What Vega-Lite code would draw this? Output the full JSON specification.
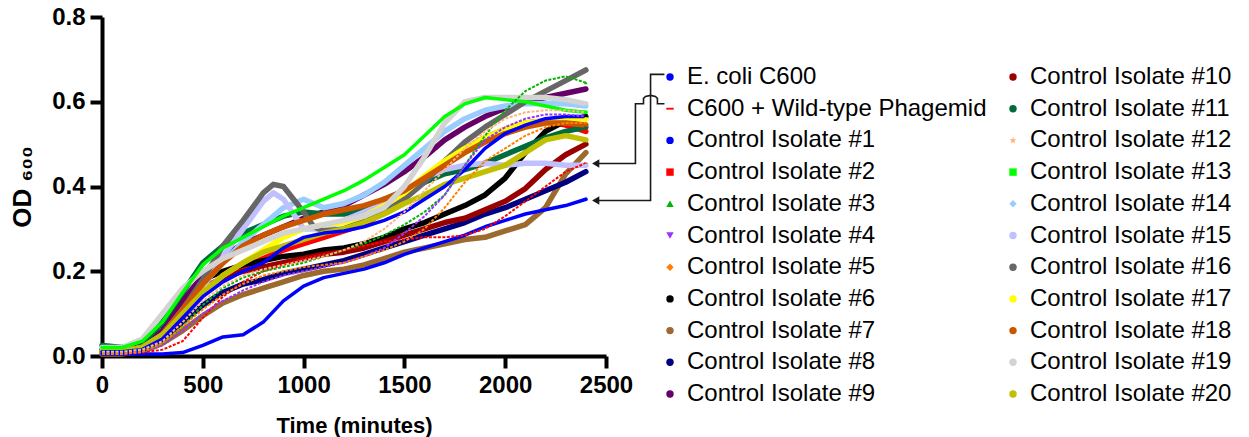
{
"$schema":"https://vega.github.io/schema/vega-lite/v6.json",
"width":504,"height":339,
"autosize":{"type":"none"},
"padding":{"left":102,"top":17,"right":643,"bottom":81},
"background":"white",
"config":{"view":{"stroke":null}},
"resolve":{"legend":{"color":"independent","shape":"independent"}},
"datasets":{
"arrows":[
{"a":1,"k":0,"t":2790,"v":0.6646},{"a":1,"k":1,"t":2721,"v":0.6646},{"a":1,"k":2,"t":2721,"v":0.367},{"a":1,"k":3,"t":2458,"v":0.367},
{"a":2,"k":0,"t":2790,"v":0.5954},{"a":2,"k":1,"t":2755,"v":0.5954},{"a":2,"k":2,"t":2755,"v":0.6079},{"a":2,"k":3,"t":2745,"v":0.6126},{"a":2,"k":4,"t":2721,"v":0.615},{"a":2,"k":5,"t":2696,"v":0.6126},{"a":2,"k":6,"t":2686,"v":0.6079},{"a":2,"k":7,"t":2686,"v":0.5954},{"a":2,"k":8,"t":2646,"v":0.5954},{"a":2,"k":9,"t":2646,"v":0.4543},{"a":2,"k":10,"t":2458,"v":0.4543}
],
"heads":[{"a":1,"t":2449,"v":0.367},{"a":2,"t":2449,"v":0.4543}],
"curves":[
{"s":"E. coli C600","t":0,"v":0.005},{"s":"E. coli C600","t":100,"v":0.005},{"s":"E. coli C600","t":200,"v":0.005},{"s":"E. coli C600","t":300,"v":0.005},{"s":"E. coli C600","t":400,"v":0.008},{"s":"E. coli C600","t":500,"v":0.025},{"s":"E. coli C600","t":600,"v":0.045},{"s":"E. coli C600","t":700,"v":0.05},{"s":"E. coli C600","t":800,"v":0.08},{"s":"E. coli C600","t":900,"v":0.13},{"s":"E. coli C600","t":1000,"v":0.165},{"s":"E. coli C600","t":1100,"v":0.185},{"s":"E. coli C600","t":1200,"v":0.195},{"s":"E. coli C600","t":1300,"v":0.205},{"s":"E. coli C600","t":1400,"v":0.22},{"s":"E. coli C600","t":1500,"v":0.24},{"s":"E. coli C600","t":1600,"v":0.255},{"s":"E. coli C600","t":1700,"v":0.27},{"s":"E. coli C600","t":1800,"v":0.285},{"s":"E. coli C600","t":1900,"v":0.305},{"s":"E. coli C600","t":2000,"v":0.32},{"s":"E. coli C600","t":2100,"v":0.335},{"s":"E. coli C600","t":2200,"v":0.345},{"s":"E. coli C600","t":2300,"v":0.355},{"s":"E. coli C600","t":2400,"v":0.37},
{"s":"C600 + Wild-type Phagemid","t":0,"v":0.005},{"s":"C600 + Wild-type Phagemid","t":100,"v":0.005},{"s":"C600 + Wild-type Phagemid","t":200,"v":0.008},{"s":"C600 + Wild-type Phagemid","t":300,"v":0.015},{"s":"C600 + Wild-type Phagemid","t":400,"v":0.035},{"s":"C600 + Wild-type Phagemid","t":500,"v":0.09},{"s":"C600 + Wild-type Phagemid","t":600,"v":0.14},{"s":"C600 + Wild-type Phagemid","t":700,"v":0.175},{"s":"C600 + Wild-type Phagemid","t":800,"v":0.2},{"s":"C600 + Wild-type Phagemid","t":900,"v":0.215},{"s":"C600 + Wild-type Phagemid","t":1000,"v":0.23},{"s":"C600 + Wild-type Phagemid","t":1100,"v":0.24},{"s":"C600 + Wild-type Phagemid","t":1200,"v":0.25},{"s":"C600 + Wild-type Phagemid","t":1300,"v":0.26},{"s":"C600 + Wild-type Phagemid","t":1400,"v":0.27},{"s":"C600 + Wild-type Phagemid","t":1500,"v":0.275},{"s":"C600 + Wild-type Phagemid","t":1600,"v":0.28},{"s":"C600 + Wild-type Phagemid","t":1700,"v":0.28},{"s":"C600 + Wild-type Phagemid","t":1800,"v":0.285},{"s":"C600 + Wild-type Phagemid","t":1900,"v":0.3},{"s":"C600 + Wild-type Phagemid","t":2000,"v":0.33},{"s":"C600 + Wild-type Phagemid","t":2100,"v":0.365},{"s":"C600 + Wild-type Phagemid","t":2200,"v":0.4},{"s":"C600 + Wild-type Phagemid","t":2300,"v":0.435},{"s":"C600 + Wild-type Phagemid","t":2400,"v":0.455},
{"s":"Control Isolate #1","t":0,"v":0.01},{"s":"Control Isolate #1","t":100,"v":0.01},{"s":"Control Isolate #1","t":200,"v":0.015},{"s":"Control Isolate #1","t":300,"v":0.04},{"s":"Control Isolate #1","t":400,"v":0.09},{"s":"Control Isolate #1","t":500,"v":0.14},{"s":"Control Isolate #1","t":600,"v":0.175},{"s":"Control Isolate #1","t":700,"v":0.2},{"s":"Control Isolate #1","t":800,"v":0.22},{"s":"Control Isolate #1","t":900,"v":0.255},{"s":"Control Isolate #1","t":1000,"v":0.28},{"s":"Control Isolate #1","t":1100,"v":0.29},{"s":"Control Isolate #1","t":1200,"v":0.295},{"s":"Control Isolate #1","t":1300,"v":0.305},{"s":"Control Isolate #1","t":1400,"v":0.32},{"s":"Control Isolate #1","t":1500,"v":0.34},{"s":"Control Isolate #1","t":1600,"v":0.37},{"s":"Control Isolate #1","t":1700,"v":0.4},{"s":"Control Isolate #1","t":1800,"v":0.44},{"s":"Control Isolate #1","t":1900,"v":0.49},{"s":"Control Isolate #1","t":2000,"v":0.525},{"s":"Control Isolate #1","t":2100,"v":0.545},{"s":"Control Isolate #1","t":2200,"v":0.56},{"s":"Control Isolate #1","t":2300,"v":0.565},{"s":"Control Isolate #1","t":2400,"v":0.565},
{"s":"Control Isolate #2","t":0,"v":0.01},{"s":"Control Isolate #2","t":100,"v":0.01},{"s":"Control Isolate #2","t":200,"v":0.015},{"s":"Control Isolate #2","t":300,"v":0.04},{"s":"Control Isolate #2","t":400,"v":0.1},{"s":"Control Isolate #2","t":500,"v":0.15},{"s":"Control Isolate #2","t":600,"v":0.185},{"s":"Control Isolate #2","t":700,"v":0.21},{"s":"Control Isolate #2","t":800,"v":0.23},{"s":"Control Isolate #2","t":900,"v":0.25},{"s":"Control Isolate #2","t":1000,"v":0.265},{"s":"Control Isolate #2","t":1100,"v":0.28},{"s":"Control Isolate #2","t":1200,"v":0.295},{"s":"Control Isolate #2","t":1300,"v":0.31},{"s":"Control Isolate #2","t":1400,"v":0.34},{"s":"Control Isolate #2","t":1500,"v":0.38},{"s":"Control Isolate #2","t":1600,"v":0.42},{"s":"Control Isolate #2","t":1700,"v":0.46},{"s":"Control Isolate #2","t":1800,"v":0.49},{"s":"Control Isolate #2","t":1900,"v":0.515},{"s":"Control Isolate #2","t":2000,"v":0.535},{"s":"Control Isolate #2","t":2100,"v":0.55},{"s":"Control Isolate #2","t":2200,"v":0.555},{"s":"Control Isolate #2","t":2300,"v":0.545},{"s":"Control Isolate #2","t":2400,"v":0.53},
{"s":"Control Isolate #3","t":0,"v":0.01},{"s":"Control Isolate #3","t":100,"v":0.01},{"s":"Control Isolate #3","t":200,"v":0.015},{"s":"Control Isolate #3","t":300,"v":0.03},{"s":"Control Isolate #3","t":400,"v":0.07},{"s":"Control Isolate #3","t":500,"v":0.12},{"s":"Control Isolate #3","t":600,"v":0.16},{"s":"Control Isolate #3","t":700,"v":0.185},{"s":"Control Isolate #3","t":800,"v":0.2},{"s":"Control Isolate #3","t":900,"v":0.21},{"s":"Control Isolate #3","t":1000,"v":0.22},{"s":"Control Isolate #3","t":1100,"v":0.235},{"s":"Control Isolate #3","t":1200,"v":0.25},{"s":"Control Isolate #3","t":1300,"v":0.265},{"s":"Control Isolate #3","t":1400,"v":0.285},{"s":"Control Isolate #3","t":1500,"v":0.31},{"s":"Control Isolate #3","t":1600,"v":0.34},{"s":"Control Isolate #3","t":1700,"v":0.38},{"s":"Control Isolate #3","t":1800,"v":0.45},{"s":"Control Isolate #3","t":1900,"v":0.52},{"s":"Control Isolate #3","t":2000,"v":0.58},{"s":"Control Isolate #3","t":2100,"v":0.625},{"s":"Control Isolate #3","t":2200,"v":0.65},{"s":"Control Isolate #3","t":2300,"v":0.66},{"s":"Control Isolate #3","t":2400,"v":0.645},
{"s":"Control Isolate #4","t":0,"v":0.005},{"s":"Control Isolate #4","t":100,"v":0.005},{"s":"Control Isolate #4","t":200,"v":0.01},{"s":"Control Isolate #4","t":300,"v":0.025},{"s":"Control Isolate #4","t":400,"v":0.06},{"s":"Control Isolate #4","t":500,"v":0.1},{"s":"Control Isolate #4","t":600,"v":0.13},{"s":"Control Isolate #4","t":700,"v":0.155},{"s":"Control Isolate #4","t":800,"v":0.175},{"s":"Control Isolate #4","t":900,"v":0.19},{"s":"Control Isolate #4","t":1000,"v":0.2},{"s":"Control Isolate #4","t":1100,"v":0.21},{"s":"Control Isolate #4","t":1200,"v":0.22},{"s":"Control Isolate #4","t":1300,"v":0.235},{"s":"Control Isolate #4","t":1400,"v":0.255},{"s":"Control Isolate #4","t":1500,"v":0.29},{"s":"Control Isolate #4","t":1600,"v":0.33},{"s":"Control Isolate #4","t":1700,"v":0.38},{"s":"Control Isolate #4","t":1800,"v":0.45},{"s":"Control Isolate #4","t":1900,"v":0.51},{"s":"Control Isolate #4","t":2000,"v":0.54},{"s":"Control Isolate #4","t":2100,"v":0.56},{"s":"Control Isolate #4","t":2200,"v":0.57},{"s":"Control Isolate #4","t":2300,"v":0.57},{"s":"Control Isolate #4","t":2400,"v":0.565},
{"s":"Control Isolate #5","t":0,"v":0.005},{"s":"Control Isolate #5","t":100,"v":0.005},{"s":"Control Isolate #5","t":200,"v":0.01},{"s":"Control Isolate #5","t":300,"v":0.03},{"s":"Control Isolate #5","t":400,"v":0.07},{"s":"Control Isolate #5","t":500,"v":0.11},{"s":"Control Isolate #5","t":600,"v":0.145},{"s":"Control Isolate #5","t":700,"v":0.17},{"s":"Control Isolate #5","t":800,"v":0.19},{"s":"Control Isolate #5","t":900,"v":0.2},{"s":"Control Isolate #5","t":1000,"v":0.21},{"s":"Control Isolate #5","t":1100,"v":0.215},{"s":"Control Isolate #5","t":1200,"v":0.22},{"s":"Control Isolate #5","t":1300,"v":0.235},{"s":"Control Isolate #5","t":1400,"v":0.25},{"s":"Control Isolate #5","t":1500,"v":0.27},{"s":"Control Isolate #5","t":1600,"v":0.3},{"s":"Control Isolate #5","t":1700,"v":0.35},{"s":"Control Isolate #5","t":1800,"v":0.41},{"s":"Control Isolate #5","t":1900,"v":0.46},{"s":"Control Isolate #5","t":2000,"v":0.49},{"s":"Control Isolate #5","t":2100,"v":0.52},{"s":"Control Isolate #5","t":2200,"v":0.54},{"s":"Control Isolate #5","t":2300,"v":0.55},{"s":"Control Isolate #5","t":2400,"v":0.55},
{"s":"Control Isolate #6","t":0,"v":0.01},{"s":"Control Isolate #6","t":100,"v":0.01},{"s":"Control Isolate #6","t":200,"v":0.02},{"s":"Control Isolate #6","t":300,"v":0.06},{"s":"Control Isolate #6","t":400,"v":0.13},{"s":"Control Isolate #6","t":500,"v":0.18},{"s":"Control Isolate #6","t":600,"v":0.2},{"s":"Control Isolate #6","t":700,"v":0.215},{"s":"Control Isolate #6","t":800,"v":0.225},{"s":"Control Isolate #6","t":900,"v":0.235},{"s":"Control Isolate #6","t":1000,"v":0.24},{"s":"Control Isolate #6","t":1100,"v":0.25},{"s":"Control Isolate #6","t":1200,"v":0.255},{"s":"Control Isolate #6","t":1300,"v":0.265},{"s":"Control Isolate #6","t":1400,"v":0.28},{"s":"Control Isolate #6","t":1500,"v":0.3},{"s":"Control Isolate #6","t":1600,"v":0.315},{"s":"Control Isolate #6","t":1700,"v":0.335},{"s":"Control Isolate #6","t":1800,"v":0.355},{"s":"Control Isolate #6","t":1900,"v":0.38},{"s":"Control Isolate #6","t":2000,"v":0.42},{"s":"Control Isolate #6","t":2100,"v":0.48},{"s":"Control Isolate #6","t":2200,"v":0.53},{"s":"Control Isolate #6","t":2300,"v":0.555},{"s":"Control Isolate #6","t":2400,"v":0.565},
{"s":"Control Isolate #7","t":0,"v":0.005},{"s":"Control Isolate #7","t":100,"v":0.005},{"s":"Control Isolate #7","t":200,"v":0.01},{"s":"Control Isolate #7","t":300,"v":0.03},{"s":"Control Isolate #7","t":400,"v":0.06},{"s":"Control Isolate #7","t":500,"v":0.095},{"s":"Control Isolate #7","t":600,"v":0.125},{"s":"Control Isolate #7","t":700,"v":0.145},{"s":"Control Isolate #7","t":800,"v":0.16},{"s":"Control Isolate #7","t":900,"v":0.175},{"s":"Control Isolate #7","t":1000,"v":0.19},{"s":"Control Isolate #7","t":1100,"v":0.2},{"s":"Control Isolate #7","t":1200,"v":0.205},{"s":"Control Isolate #7","t":1300,"v":0.215},{"s":"Control Isolate #7","t":1400,"v":0.23},{"s":"Control Isolate #7","t":1500,"v":0.245},{"s":"Control Isolate #7","t":1600,"v":0.255},{"s":"Control Isolate #7","t":1700,"v":0.265},{"s":"Control Isolate #7","t":1800,"v":0.275},{"s":"Control Isolate #7","t":1900,"v":0.28},{"s":"Control Isolate #7","t":2000,"v":0.295},{"s":"Control Isolate #7","t":2100,"v":0.31},{"s":"Control Isolate #7","t":2200,"v":0.35},{"s":"Control Isolate #7","t":2300,"v":0.43},{"s":"Control Isolate #7","t":2400,"v":0.48},
{"s":"Control Isolate #8","t":0,"v":0.01},{"s":"Control Isolate #8","t":100,"v":0.01},{"s":"Control Isolate #8","t":200,"v":0.015},{"s":"Control Isolate #8","t":300,"v":0.04},{"s":"Control Isolate #8","t":400,"v":0.08},{"s":"Control Isolate #8","t":500,"v":0.12},{"s":"Control Isolate #8","t":600,"v":0.15},{"s":"Control Isolate #8","t":700,"v":0.17},{"s":"Control Isolate #8","t":800,"v":0.18},{"s":"Control Isolate #8","t":900,"v":0.195},{"s":"Control Isolate #8","t":1000,"v":0.205},{"s":"Control Isolate #8","t":1100,"v":0.215},{"s":"Control Isolate #8","t":1200,"v":0.225},{"s":"Control Isolate #8","t":1300,"v":0.24},{"s":"Control Isolate #8","t":1400,"v":0.255},{"s":"Control Isolate #8","t":1500,"v":0.27},{"s":"Control Isolate #8","t":1600,"v":0.285},{"s":"Control Isolate #8","t":1700,"v":0.3},{"s":"Control Isolate #8","t":1800,"v":0.315},{"s":"Control Isolate #8","t":1900,"v":0.335},{"s":"Control Isolate #8","t":2000,"v":0.35},{"s":"Control Isolate #8","t":2100,"v":0.37},{"s":"Control Isolate #8","t":2200,"v":0.39},{"s":"Control Isolate #8","t":2300,"v":0.41},{"s":"Control Isolate #8","t":2400,"v":0.435},
{"s":"Control Isolate #9","t":0,"v":0.015},{"s":"Control Isolate #9","t":100,"v":0.015},{"s":"Control Isolate #9","t":200,"v":0.02},{"s":"Control Isolate #9","t":300,"v":0.06},{"s":"Control Isolate #9","t":400,"v":0.13},{"s":"Control Isolate #9","t":500,"v":0.19},{"s":"Control Isolate #9","t":600,"v":0.235},{"s":"Control Isolate #9","t":700,"v":0.265},{"s":"Control Isolate #9","t":800,"v":0.285},{"s":"Control Isolate #9","t":900,"v":0.305},{"s":"Control Isolate #9","t":1000,"v":0.325},{"s":"Control Isolate #9","t":1100,"v":0.34},{"s":"Control Isolate #9","t":1200,"v":0.355},{"s":"Control Isolate #9","t":1300,"v":0.38},{"s":"Control Isolate #9","t":1400,"v":0.405},{"s":"Control Isolate #9","t":1500,"v":0.435},{"s":"Control Isolate #9","t":1600,"v":0.47},{"s":"Control Isolate #9","t":1700,"v":0.51},{"s":"Control Isolate #9","t":1800,"v":0.54},{"s":"Control Isolate #9","t":1900,"v":0.565},{"s":"Control Isolate #9","t":2000,"v":0.585},{"s":"Control Isolate #9","t":2100,"v":0.6},{"s":"Control Isolate #9","t":2200,"v":0.61},{"s":"Control Isolate #9","t":2300,"v":0.62},{"s":"Control Isolate #9","t":2400,"v":0.63},
{"s":"Control Isolate #10","t":0,"v":0.01},{"s":"Control Isolate #10","t":100,"v":0.01},{"s":"Control Isolate #10","t":200,"v":0.02},{"s":"Control Isolate #10","t":300,"v":0.05},{"s":"Control Isolate #10","t":400,"v":0.11},{"s":"Control Isolate #10","t":500,"v":0.16},{"s":"Control Isolate #10","t":600,"v":0.185},{"s":"Control Isolate #10","t":700,"v":0.2},{"s":"Control Isolate #10","t":800,"v":0.21},{"s":"Control Isolate #10","t":900,"v":0.22},{"s":"Control Isolate #10","t":1000,"v":0.23},{"s":"Control Isolate #10","t":1100,"v":0.24},{"s":"Control Isolate #10","t":1200,"v":0.245},{"s":"Control Isolate #10","t":1300,"v":0.255},{"s":"Control Isolate #10","t":1400,"v":0.27},{"s":"Control Isolate #10","t":1500,"v":0.285},{"s":"Control Isolate #10","t":1600,"v":0.3},{"s":"Control Isolate #10","t":1700,"v":0.315},{"s":"Control Isolate #10","t":1800,"v":0.325},{"s":"Control Isolate #10","t":1900,"v":0.345},{"s":"Control Isolate #10","t":2000,"v":0.365},{"s":"Control Isolate #10","t":2100,"v":0.395},{"s":"Control Isolate #10","t":2200,"v":0.44},{"s":"Control Isolate #10","t":2300,"v":0.475},{"s":"Control Isolate #10","t":2400,"v":0.5},
{"s":"Control Isolate #11","t":0,"v":0.025},{"s":"Control Isolate #11","t":100,"v":0.02},{"s":"Control Isolate #11","t":200,"v":0.03},{"s":"Control Isolate #11","t":300,"v":0.08},{"s":"Control Isolate #11","t":400,"v":0.15},{"s":"Control Isolate #11","t":500,"v":0.22},{"s":"Control Isolate #11","t":600,"v":0.26},{"s":"Control Isolate #11","t":700,"v":0.29},{"s":"Control Isolate #11","t":800,"v":0.31},{"s":"Control Isolate #11","t":900,"v":0.33},{"s":"Control Isolate #11","t":1000,"v":0.34},{"s":"Control Isolate #11","t":1100,"v":0.335},{"s":"Control Isolate #11","t":1200,"v":0.335},{"s":"Control Isolate #11","t":1300,"v":0.345},{"s":"Control Isolate #11","t":1400,"v":0.37},{"s":"Control Isolate #11","t":1500,"v":0.39},{"s":"Control Isolate #11","t":1600,"v":0.41},{"s":"Control Isolate #11","t":1700,"v":0.43},{"s":"Control Isolate #11","t":1800,"v":0.44},{"s":"Control Isolate #11","t":1900,"v":0.455},{"s":"Control Isolate #11","t":2000,"v":0.475},{"s":"Control Isolate #11","t":2100,"v":0.495},{"s":"Control Isolate #11","t":2200,"v":0.515},{"s":"Control Isolate #11","t":2300,"v":0.53},{"s":"Control Isolate #11","t":2400,"v":0.54},
{"s":"Control Isolate #12","t":0,"v":0.01},{"s":"Control Isolate #12","t":100,"v":0.01},{"s":"Control Isolate #12","t":200,"v":0.015},{"s":"Control Isolate #12","t":300,"v":0.035},{"s":"Control Isolate #12","t":400,"v":0.08},{"s":"Control Isolate #12","t":500,"v":0.13},{"s":"Control Isolate #12","t":600,"v":0.165},{"s":"Control Isolate #12","t":700,"v":0.19},{"s":"Control Isolate #12","t":800,"v":0.205},{"s":"Control Isolate #12","t":900,"v":0.215},{"s":"Control Isolate #12","t":1000,"v":0.225},{"s":"Control Isolate #12","t":1100,"v":0.235},{"s":"Control Isolate #12","t":1200,"v":0.25},{"s":"Control Isolate #12","t":1300,"v":0.27},{"s":"Control Isolate #12","t":1400,"v":0.3},{"s":"Control Isolate #12","t":1500,"v":0.34},{"s":"Control Isolate #12","t":1600,"v":0.39},{"s":"Control Isolate #12","t":1700,"v":0.44},{"s":"Control Isolate #12","t":1800,"v":0.49},{"s":"Control Isolate #12","t":1900,"v":0.53},{"s":"Control Isolate #12","t":2000,"v":0.56},{"s":"Control Isolate #12","t":2100,"v":0.575},{"s":"Control Isolate #12","t":2200,"v":0.58},{"s":"Control Isolate #12","t":2300,"v":0.58},{"s":"Control Isolate #12","t":2400,"v":0.575},
{"s":"Control Isolate #13","t":0,"v":0.02},{"s":"Control Isolate #13","t":100,"v":0.02},{"s":"Control Isolate #13","t":200,"v":0.035},{"s":"Control Isolate #13","t":300,"v":0.08},{"s":"Control Isolate #13","t":400,"v":0.15},{"s":"Control Isolate #13","t":500,"v":0.215},{"s":"Control Isolate #13","t":600,"v":0.255},{"s":"Control Isolate #13","t":700,"v":0.28},{"s":"Control Isolate #13","t":800,"v":0.305},{"s":"Control Isolate #13","t":900,"v":0.33},{"s":"Control Isolate #13","t":1000,"v":0.35},{"s":"Control Isolate #13","t":1100,"v":0.37},{"s":"Control Isolate #13","t":1200,"v":0.39},{"s":"Control Isolate #13","t":1300,"v":0.415},{"s":"Control Isolate #13","t":1400,"v":0.445},{"s":"Control Isolate #13","t":1500,"v":0.475},{"s":"Control Isolate #13","t":1600,"v":0.52},{"s":"Control Isolate #13","t":1700,"v":0.565},{"s":"Control Isolate #13","t":1800,"v":0.595},{"s":"Control Isolate #13","t":1900,"v":0.61},{"s":"Control Isolate #13","t":2000,"v":0.605},{"s":"Control Isolate #13","t":2100,"v":0.6},{"s":"Control Isolate #13","t":2200,"v":0.59},{"s":"Control Isolate #13","t":2300,"v":0.58},{"s":"Control Isolate #13","t":2400,"v":0.575},
{"s":"Control Isolate #14","t":0,"v":0.01},{"s":"Control Isolate #14","t":100,"v":0.01},{"s":"Control Isolate #14","t":200,"v":0.02},{"s":"Control Isolate #14","t":300,"v":0.05},{"s":"Control Isolate #14","t":400,"v":0.11},{"s":"Control Isolate #14","t":500,"v":0.17},{"s":"Control Isolate #14","t":600,"v":0.22},{"s":"Control Isolate #14","t":700,"v":0.27},{"s":"Control Isolate #14","t":800,"v":0.31},{"s":"Control Isolate #14","t":900,"v":0.35},{"s":"Control Isolate #14","t":1000,"v":0.37},{"s":"Control Isolate #14","t":1100,"v":0.35},{"s":"Control Isolate #14","t":1200,"v":0.36},{"s":"Control Isolate #14","t":1300,"v":0.38},{"s":"Control Isolate #14","t":1400,"v":0.41},{"s":"Control Isolate #14","t":1500,"v":0.45},{"s":"Control Isolate #14","t":1600,"v":0.49},{"s":"Control Isolate #14","t":1700,"v":0.53},{"s":"Control Isolate #14","t":1800,"v":0.56},{"s":"Control Isolate #14","t":1900,"v":0.58},{"s":"Control Isolate #14","t":2000,"v":0.59},{"s":"Control Isolate #14","t":2100,"v":0.595},{"s":"Control Isolate #14","t":2200,"v":0.595},{"s":"Control Isolate #14","t":2300,"v":0.595},{"s":"Control Isolate #14","t":2400,"v":0.59},
{"s":"Control Isolate #15","t":0,"v":0.01},{"s":"Control Isolate #15","t":100,"v":0.01},{"s":"Control Isolate #15","t":200,"v":0.02},{"s":"Control Isolate #15","t":300,"v":0.05},{"s":"Control Isolate #15","t":400,"v":0.1},{"s":"Control Isolate #15","t":500,"v":0.16},{"s":"Control Isolate #15","t":600,"v":0.235},{"s":"Control Isolate #15","t":700,"v":0.3},{"s":"Control Isolate #15","t":800,"v":0.365},{"s":"Control Isolate #15","t":850,"v":0.385},{"s":"Control Isolate #15","t":900,"v":0.37},{"s":"Control Isolate #15","t":1000,"v":0.3},{"s":"Control Isolate #15","t":1100,"v":0.3},{"s":"Control Isolate #15","t":1200,"v":0.32},{"s":"Control Isolate #15","t":1300,"v":0.34},{"s":"Control Isolate #15","t":1400,"v":0.36},{"s":"Control Isolate #15","t":1500,"v":0.39},{"s":"Control Isolate #15","t":1600,"v":0.42},{"s":"Control Isolate #15","t":1700,"v":0.44},{"s":"Control Isolate #15","t":1800,"v":0.45},{"s":"Control Isolate #15","t":1900,"v":0.455},{"s":"Control Isolate #15","t":2000,"v":0.45},{"s":"Control Isolate #15","t":2100,"v":0.455},{"s":"Control Isolate #15","t":2200,"v":0.455},{"s":"Control Isolate #15","t":2300,"v":0.45},{"s":"Control Isolate #15","t":2400,"v":0.45},
{"s":"Control Isolate #16","t":0,"v":0.01},{"s":"Control Isolate #16","t":100,"v":0.01},{"s":"Control Isolate #16","t":200,"v":0.02},{"s":"Control Isolate #16","t":300,"v":0.05},{"s":"Control Isolate #16","t":400,"v":0.11},{"s":"Control Isolate #16","t":500,"v":0.18},{"s":"Control Isolate #16","t":600,"v":0.26},{"s":"Control Isolate #16","t":700,"v":0.32},{"s":"Control Isolate #16","t":800,"v":0.385},{"s":"Control Isolate #16","t":850,"v":0.405},{"s":"Control Isolate #16","t":900,"v":0.4},{"s":"Control Isolate #16","t":1000,"v":0.34},{"s":"Control Isolate #16","t":1050,"v":0.305},{"s":"Control Isolate #16","t":1100,"v":0.295},{"s":"Control Isolate #16","t":1200,"v":0.3},{"s":"Control Isolate #16","t":1300,"v":0.32},{"s":"Control Isolate #16","t":1400,"v":0.345},{"s":"Control Isolate #16","t":1500,"v":0.37},{"s":"Control Isolate #16","t":1600,"v":0.41},{"s":"Control Isolate #16","t":1700,"v":0.46},{"s":"Control Isolate #16","t":1800,"v":0.505},{"s":"Control Isolate #16","t":1900,"v":0.54},{"s":"Control Isolate #16","t":2000,"v":0.57},{"s":"Control Isolate #16","t":2100,"v":0.6},{"s":"Control Isolate #16","t":2200,"v":0.625},{"s":"Control Isolate #16","t":2300,"v":0.65},{"s":"Control Isolate #16","t":2400,"v":0.675},
{"s":"Control Isolate #17","t":0,"v":0.01},{"s":"Control Isolate #17","t":100,"v":0.01},{"s":"Control Isolate #17","t":200,"v":0.02},{"s":"Control Isolate #17","t":300,"v":0.05},{"s":"Control Isolate #17","t":400,"v":0.1},{"s":"Control Isolate #17","t":500,"v":0.15},{"s":"Control Isolate #17","t":600,"v":0.19},{"s":"Control Isolate #17","t":700,"v":0.22},{"s":"Control Isolate #17","t":800,"v":0.25},{"s":"Control Isolate #17","t":900,"v":0.28},{"s":"Control Isolate #17","t":1000,"v":0.3},{"s":"Control Isolate #17","t":1100,"v":0.31},{"s":"Control Isolate #17","t":1200,"v":0.315},{"s":"Control Isolate #17","t":1300,"v":0.33},{"s":"Control Isolate #17","t":1400,"v":0.355},{"s":"Control Isolate #17","t":1500,"v":0.385},{"s":"Control Isolate #17","t":1600,"v":0.425},{"s":"Control Isolate #17","t":1700,"v":0.46},{"s":"Control Isolate #17","t":1800,"v":0.49},{"s":"Control Isolate #17","t":1900,"v":0.515},{"s":"Control Isolate #17","t":2000,"v":0.535},{"s":"Control Isolate #17","t":2100,"v":0.55},{"s":"Control Isolate #17","t":2200,"v":0.555},{"s":"Control Isolate #17","t":2300,"v":0.56},{"s":"Control Isolate #17","t":2400,"v":0.56},
{"s":"Control Isolate #18","t":0,"v":0.01},{"s":"Control Isolate #18","t":100,"v":0.01},{"s":"Control Isolate #18","t":200,"v":0.02},{"s":"Control Isolate #18","t":300,"v":0.05},{"s":"Control Isolate #18","t":400,"v":0.11},{"s":"Control Isolate #18","t":500,"v":0.17},{"s":"Control Isolate #18","t":600,"v":0.22},{"s":"Control Isolate #18","t":700,"v":0.26},{"s":"Control Isolate #18","t":800,"v":0.285},{"s":"Control Isolate #18","t":900,"v":0.305},{"s":"Control Isolate #18","t":1000,"v":0.32},{"s":"Control Isolate #18","t":1100,"v":0.335},{"s":"Control Isolate #18","t":1200,"v":0.345},{"s":"Control Isolate #18","t":1300,"v":0.355},{"s":"Control Isolate #18","t":1400,"v":0.37},{"s":"Control Isolate #18","t":1500,"v":0.39},{"s":"Control Isolate #18","t":1600,"v":0.42},{"s":"Control Isolate #18","t":1700,"v":0.45},{"s":"Control Isolate #18","t":1800,"v":0.48},{"s":"Control Isolate #18","t":1900,"v":0.505},{"s":"Control Isolate #18","t":2000,"v":0.525},{"s":"Control Isolate #18","t":2100,"v":0.54},{"s":"Control Isolate #18","t":2200,"v":0.55},{"s":"Control Isolate #18","t":2300,"v":0.55},{"s":"Control Isolate #18","t":2400,"v":0.545},
{"s":"Control Isolate #19","t":0,"v":0.02},{"s":"Control Isolate #19","t":100,"v":0.02},{"s":"Control Isolate #19","t":200,"v":0.04},{"s":"Control Isolate #19","t":300,"v":0.1},{"s":"Control Isolate #19","t":400,"v":0.16},{"s":"Control Isolate #19","t":500,"v":0.2},{"s":"Control Isolate #19","t":600,"v":0.23},{"s":"Control Isolate #19","t":700,"v":0.25},{"s":"Control Isolate #19","t":800,"v":0.27},{"s":"Control Isolate #19","t":900,"v":0.29},{"s":"Control Isolate #19","t":1000,"v":0.3},{"s":"Control Isolate #19","t":1100,"v":0.31},{"s":"Control Isolate #19","t":1200,"v":0.32},{"s":"Control Isolate #19","t":1300,"v":0.33},{"s":"Control Isolate #19","t":1400,"v":0.35},{"s":"Control Isolate #19","t":1500,"v":0.4},{"s":"Control Isolate #19","t":1600,"v":0.47},{"s":"Control Isolate #19","t":1700,"v":0.55},{"s":"Control Isolate #19","t":1800,"v":0.6},{"s":"Control Isolate #19","t":1900,"v":0.61},{"s":"Control Isolate #19","t":2000,"v":0.61},{"s":"Control Isolate #19","t":2100,"v":0.61},{"s":"Control Isolate #19","t":2200,"v":0.61},{"s":"Control Isolate #19","t":2300,"v":0.605},{"s":"Control Isolate #19","t":2400,"v":0.595},
{"s":"Control Isolate #20","t":0,"v":0.01},{"s":"Control Isolate #20","t":100,"v":0.01},{"s":"Control Isolate #20","t":200,"v":0.02},{"s":"Control Isolate #20","t":300,"v":0.05},{"s":"Control Isolate #20","t":400,"v":0.1},{"s":"Control Isolate #20","t":500,"v":0.15},{"s":"Control Isolate #20","t":600,"v":0.19},{"s":"Control Isolate #20","t":700,"v":0.22},{"s":"Control Isolate #20","t":800,"v":0.245},{"s":"Control Isolate #20","t":900,"v":0.26},{"s":"Control Isolate #20","t":1000,"v":0.275},{"s":"Control Isolate #20","t":1100,"v":0.29},{"s":"Control Isolate #20","t":1200,"v":0.3},{"s":"Control Isolate #20","t":1300,"v":0.315},{"s":"Control Isolate #20","t":1400,"v":0.335},{"s":"Control Isolate #20","t":1500,"v":0.36},{"s":"Control Isolate #20","t":1600,"v":0.38},{"s":"Control Isolate #20","t":1700,"v":0.405},{"s":"Control Isolate #20","t":1800,"v":0.42},{"s":"Control Isolate #20","t":1900,"v":0.435},{"s":"Control Isolate #20","t":2000,"v":0.45},{"s":"Control Isolate #20","t":2100,"v":0.48},{"s":"Control Isolate #20","t":2200,"v":0.51},{"s":"Control Isolate #20","t":2300,"v":0.52},{"s":"Control Isolate #20","t":2400,"v":0.51}
]},
"encoding":{
"x":{"field":"t","type":"quantitative","title":"Time (minutes)","scale":{"domain":[0,2500],"nice":false,"zero":false},
"axis":{"values":[0,500,1000,1500,2000,2500],"format":"d","grid":false,"domainColor":"#000","domainWidth":4,"tickColor":"#000","tickWidth":4,"tickSize":12,"labelFlush":false,"labelOverlap":false,"labelFont":"Liberation Sans","labelFontSize":24,"labelFontWeight":"bold","labelColor":"#000","labelPadding":5,"titleFont":"Liberation Sans","titleFontSize":22,"titleFontWeight":"bold","titleColor":"#000","titlePadding":18}},
"y":{"field":"v","type":"quantitative","title":"OD ₆₀₀","scale":{"domain":[0,0.8],"nice":false,"zero":false},
"axis":{"values":[0,0.2,0.4,0.6,0.8],"format":".1f","grid":false,"domainColor":"#000","domainWidth":4,"tickColor":"#000","tickWidth":4,"tickSize":12,"labelFlush":false,"labelOverlap":false,"labelFont":"Liberation Sans","labelFontSize":24,"labelFontWeight":"bold","labelColor":"#000","labelPadding":5,"titleFont":"Liberation Sans","titleFontSize":26,"titleFontWeight":"bold","titleColor":"#000","titlePadding":16}}
},
"layer":[
{"data":{"name":"curves"},
"transform":[{"filter":{"field":"s","oneOf":["Control Isolate #19","Control Isolate #15","Control Isolate #16","Control Isolate #14","Control Isolate #11","Control Isolate #17","Control Isolate #18","Control Isolate #20","Control Isolate #9","Control Isolate #2","Control Isolate #6","Control Isolate #10","Control Isolate #8","Control Isolate #7"]}}],
"mark":{"type":"line","strokeWidth":5.5,"strokeCap":"round","strokeJoin":"round"},
"encoding":{"color":{"field":"s","type":"nominal","legend":null,"scale":{"domain":["E. coli C600","C600 + Wild-type Phagemid","Control Isolate #1","Control Isolate #2","Control Isolate #3","Control Isolate #4","Control Isolate #5","Control Isolate #6","Control Isolate #7","Control Isolate #8","Control Isolate #9","Control Isolate #10","Control Isolate #11","Control Isolate #12","Control Isolate #13","Control Isolate #14","Control Isolate #15","Control Isolate #16","Control Isolate #17","Control Isolate #18","Control Isolate #19","Control Isolate #20"],"range":["#0000ff","#ff0000","#0000ff","#ff0000","#00b400","#9933ff","#ff8000","#000000","#9c6a2c","#000080","#660066","#990000","#006b3c","#ffb380","#00ff00","#99ccff","#c0c0ff","#666666","#ffff00","#cc5500","#d3d3d3","#c0c000"]}}}},
{"data":{"name":"curves"},
"transform":[{"filter":{"field":"s","oneOf":["E. coli C600","Control Isolate #1","Control Isolate #13"]}}],
"mark":{"type":"line","strokeWidth":3.5,"strokeCap":"round","strokeJoin":"round"},
"encoding":{"color":{"field":"s","type":"nominal","legend":null}}},
{"data":{"name":"curves"},
"transform":[{"filter":{"field":"s","oneOf":["C600 + Wild-type Phagemid","Control Isolate #3","Control Isolate #4","Control Isolate #5","Control Isolate #12"]}}],
"mark":{"type":"line","strokeWidth":2,"strokeDash":[3,1.5]},
"encoding":{"color":{"field":"s","type":"nominal","legend":null}}},
{"data":{"name":"curves"},
"transform":[{"filter":"datum.t == 2400"}],
"mark":{"type":"point","filled":true,"size":12,"opacity":1},
"encoding":{
"color":{"field":"s","type":"nominal","legend":{"orient":"none","legendX":556,"legendY":48,"columns":2,"title":null,"labelFont":"Liberation Sans","labelFontSize":24,"labelColor":"#000","labelLimit":400,"symbolSize":55,"symbolStrokeWidth":0,"labelOffset":5,"rowPadding":7.7,"columnPadding":14}},
"shape":{"field":"s","type":"nominal","legend":{"orient":"none","legendX":556,"legendY":48,"columns":2,"title":null,"labelFont":"Liberation Sans","labelFontSize":24,"labelColor":"#000","labelLimit":400,"symbolSize":55,"symbolStrokeWidth":0,"labelOffset":5,"rowPadding":7.7,"columnPadding":14},
"scale":{"domain":["E. coli C600","C600 + Wild-type Phagemid","Control Isolate #1","Control Isolate #2","Control Isolate #3","Control Isolate #4","Control Isolate #5","Control Isolate #6","Control Isolate #7","Control Isolate #8","Control Isolate #9","Control Isolate #10","Control Isolate #11","Control Isolate #12","Control Isolate #13","Control Isolate #14","Control Isolate #15","Control Isolate #16","Control Isolate #17","Control Isolate #18","Control Isolate #19","Control Isolate #20"],
"range":["circle","M-1,-0.25H1V0.25H-1Z","circle","square","triangle-up","triangle-down","diamond","circle","circle","circle","circle","circle","circle","M0,-1L0.24,-0.33L0.95,-0.31L0.39,0.12L0.59,0.81L0,0.4L-0.59,0.81L-0.39,0.12L-0.95,-0.31L-0.24,-0.33Z","square","diamond","circle","circle","circle","circle","circle","circle"]}}}},
{"data":{"name":"arrows"},
"mark":{"type":"line","color":"#1a1a1a","strokeWidth":1.6,"clip":false},
"encoding":{"detail":{"field":"a","type":"nominal"},"order":{"field":"k","type":"quantitative"}}},
{"data":{"name":"heads"},
"mark":{"type":"point","shape":"triangle-left","filled":true,"color":"#1a1a1a","size":70,"opacity":1,"clip":false},
"encoding":{}}
]
}
